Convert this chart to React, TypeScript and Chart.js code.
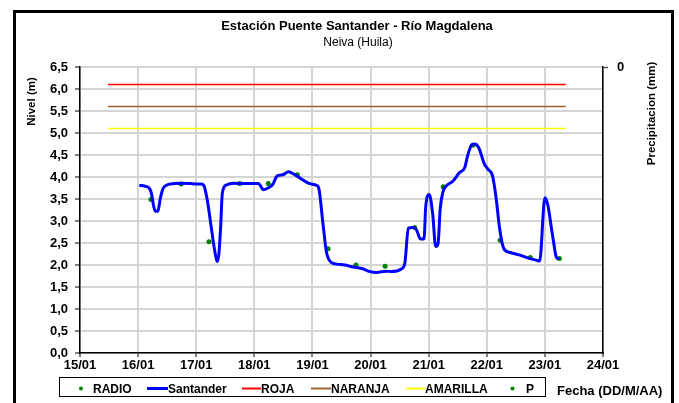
import React, { useEffect, useRef } from 'react';
import { Chart, registerables } from 'chart.js';

Chart.register(...registerables);

const titulo = 'Estación Puente Santander - Río Magdalena';
const subtitulo = 'Neiva (Huila)';
const tituloEjeX = 'Fecha (DD/M/AA)';
const tituloEjeY = 'Nivel (m)';
const tituloEjeY2 = 'Precipitacion (mm)';

const diasEje = [15, 16, 17, 18, 19, 20, 21, 22, 23, 24];
const etiquetasEje = ['15/01', '16/01', '17/01', '18/01', '19/01', '20/01', '21/01', '22/01', '23/01', '24/01'];

const santanderDia = [
  16.02, 16.12, 16.19, 16.23, 16.27, 16.30, 16.34, 16.38, 16.43, 16.50, 16.62, 16.75, 16.90,
  17.00, 17.09, 17.14, 17.20, 17.26, 17.32, 17.36, 17.39, 17.42, 17.45, 17.52, 17.65, 17.80,
  18.07, 18.16, 18.25, 18.32, 18.39, 18.49, 18.59, 18.66, 18.78, 18.95,
  19.07, 19.11, 19.18, 19.24, 19.32, 19.42, 19.56, 19.67, 19.85, 19.99,
  20.10, 20.27, 20.36, 20.53, 20.59, 20.65, 20.73, 20.79, 20.86, 20.92, 20.95,
  21.01, 21.07, 21.12, 21.16, 21.20, 21.25, 21.30, 21.42, 21.53, 21.62, 21.67, 21.73, 21.79, 21.86, 21.96,
  22.02, 22.10, 22.16, 22.22, 22.29, 22.39, 22.56, 22.73, 22.85, 22.91,
  23.00, 23.05, 23.13, 23.21, 23.25,
];
const santanderNivel = [
  3.81, 3.79, 3.75, 3.62, 3.32, 3.22, 3.22, 3.50, 3.74, 3.82, 3.85, 3.86, 3.85,
  3.84, 3.84, 3.78, 3.40, 2.84, 2.31, 2.08, 2.25, 2.86, 3.64, 3.82, 3.86, 3.85,
  3.85, 3.71, 3.76, 3.84, 4.02, 4.05, 4.12, 4.08, 3.98, 3.85,
  3.81, 3.74, 2.95, 2.30, 2.06, 2.02, 2.00, 1.96, 1.92, 1.85,
  1.83, 1.86, 1.85, 1.91, 2.04, 2.84, 2.85, 2.80, 2.59, 2.59, 3.34,
  3.60, 3.15, 2.42, 2.47, 3.30, 3.68, 3.79, 3.91, 4.10, 4.21, 4.48, 4.71, 4.75, 4.67, 4.29,
  4.18, 4.02, 3.53, 2.84, 2.38, 2.29, 2.23, 2.15, 2.11, 2.09,
  3.53, 3.37, 2.69, 2.15, 2.15,
];

const radioDia = [16.22, 16.74, 17.22, 17.75, 18.24, 18.74, 19.27, 19.75, 20.25, 20.76, 21.25, 21.76, 22.23, 22.75, 23.25];
const radioNivel = [3.49, 3.84, 2.53, 3.85, 3.85, 4.05, 2.37, 2.00, 1.97, 2.85, 3.78, 4.72, 2.56, 2.17, 2.15];

const umbralDia = [15.48, 23.36];
const nivelRoja = [6.1, 6.1];
const nivelNaranja = [5.6, 5.6];
const nivelAmarilla = [5.1, 5.1];

const precipitacionDia: number[] = [];
const precipitacionMm: number[] = [];

const FONT = "'Liberation Sans', Arial, sans-serif";

const pares = (xs: number[], ys: number[]) => xs.map((x, i) => ({ x, y: ys[i] }));

const legendLayout = [
  { sx: 72, tx: 93 },
  { sx: 147, tx: 168 },
  { sx: 242, tx: 261 },
  { sx: 311, tx: 331 },
  { sx: 406, tx: 425 },
  { sx: 502, tx: 526 },
];

const decorPlugin = {
  id: 'decor',
  afterDraw(chart: any) {
    const ctx = chart.ctx as CanvasRenderingContext2D;
    ctx.save();
    // outer frame
    ctx.strokeStyle = '#000';
    ctx.lineWidth = 3;
    ctx.strokeRect(14.5, 11.5, 658, 400);

    // titles
    ctx.fillStyle = '#000';
    ctx.textAlign = 'center';
    ctx.textBaseline = 'alphabetic';
    ctx.font = `bold 13px ${FONT}`;
    ctx.fillText(titulo, 357, 29.5);
    ctx.font = `12px ${FONT}`;
    ctx.fillText(subtitulo, 358, 45.5);

    // axis titles
    ctx.font = `bold 11.5px ${FONT}`;
    ctx.textBaseline = 'middle';
    ctx.save();
    ctx.translate(32, 101.5);
    ctx.rotate(-Math.PI / 2);
    ctx.fillText(tituloEjeY, 0, 0);
    ctx.restore();
    ctx.save();
    ctx.translate(652, 113.5);
    ctx.rotate(-Math.PI / 2);
    ctx.fillText(tituloEjeY2, 0, 0);
    ctx.restore();

    // legend box
    ctx.lineWidth = 1;
    ctx.strokeStyle = '#000';
    ctx.strokeRect(59.5, 377.5, 486, 19);
    ctx.font = `bold 12px ${FONT}`;
    ctx.textAlign = 'left';
    ctx.textBaseline = 'alphabetic';
    const ds = chart.data.datasets;
    ds.forEach((d: any, i: number) => {
      const pos = legendLayout[i];
      if (!pos) return;
      const cy = 388.5;
      if (d.showLine === false) {
        ctx.fillStyle = d.pointBackgroundColor;
        ctx.beginPath();
        ctx.arc((pos.sx + pos.tx - 4) / 2 + 0.5, cy, 2, 0, Math.PI * 2);
        ctx.fill();
      } else {
        ctx.strokeStyle = d.borderColor;
        ctx.lineWidth = d.borderWidth >= 3 ? 3 : 2;
        ctx.beginPath();
        ctx.moveTo(pos.sx, cy);
        ctx.lineTo(pos.tx, cy);
        ctx.stroke();
      }
      ctx.fillStyle = '#000';
      ctx.fillText(d.label, pos.tx, 393);
    });

    // x axis title
    ctx.font = `bold 13px ${FONT}`;
    ctx.fillText(tituloEjeX, 557, 395);
    ctx.restore();
  },
};

export default function App() {
  const ref = useRef<HTMLCanvasElement | null>(null);

  useEffect(() => {
    if (!ref.current) return;
    const tickFont = { family: FONT, size: 13, weight: 'bold' as const };
    const chart = new Chart(ref.current, {
      type: 'line',
      data: {
        datasets: [
          {
            label: 'RADIO',
            data: pares(radioDia, radioNivel),
            showLine: false,
            pointRadius: 2.5,
            pointBorderWidth: 0,
            pointBackgroundColor: '#008000',
            borderColor: '#008000',
            yAxisID: 'y',
            order: 2,
          },
          {
            label: 'Santander',
            data: pares(santanderDia, santanderNivel),
            borderColor: '#0000FF',
            backgroundColor: '#0000FF',
            borderWidth: 3,
            pointRadius: 0,
            cubicInterpolationMode: 'monotone',
            yAxisID: 'y',
            order: 1,
          },
          {
            label: 'ROJA',
            data: pares(umbralDia, nivelRoja),
            borderColor: '#FF0000',
            borderWidth: 1.5,
            pointRadius: 0,
            yAxisID: 'y',
            order: 3,
          },
          {
            label: 'NARANJA',
            data: pares(umbralDia, nivelNaranja),
            borderColor: '#996633',
            borderWidth: 1.5,
            pointRadius: 0,
            yAxisID: 'y',
            order: 3,
          },
          {
            label: 'AMARILLA',
            data: pares(umbralDia, nivelAmarilla),
            borderColor: '#FFFF00',
            borderWidth: 1.5,
            pointRadius: 0,
            yAxisID: 'y',
            order: 3,
          },
          {
            label: 'P',
            data: pares(precipitacionDia, precipitacionMm),
            showLine: false,
            pointRadius: 2.5,
            pointBorderWidth: 0,
            pointBackgroundColor: '#008000',
            borderColor: '#008000',
            yAxisID: 'y2',
            order: 2,
          },
        ],
      },
      options: {
        animation: false,
        responsive: false,
        maintainAspectRatio: false,
        devicePixelRatio: 1,
        layout: { padding: { top: 67, left: 0, right: 0, bottom: 0 } },
        plugins: {
          legend: { display: false },
          title: { display: false },
          tooltip: { enabled: false },
        },
        scales: {
          x: {
            type: 'linear',
            min: diasEje[0],
            max: diasEje[diasEje.length - 1],
            afterBuildTicks: (s: any) => {
              s.ticks = diasEje.map((v) => ({ value: v }));
            },
            afterFit: (s: any) => {
              s.height = 50;
            },
            ticks: {
              autoSkip: false,
              maxRotation: 0,
              padding: 1,
              color: '#000',
              font: tickFont,
              callback: (v: any) => {
                const i = diasEje.indexOf(Number(v));
                return i >= 0 ? etiquetasEje[i] : '';
              },
            },
            grid: { color: '#d4d4d4', lineWidth: 2, tickColor: '#000', tickLength: 4, tickWidth: 1 },
            border: { display: true, color: '#000', width: 1.5 },
          },
          y: {
            type: 'linear',
            position: 'left',
            min: 0,
            max: 6.5,
            afterFit: (s: any) => {
              s.width = 80;
            },
            ticks: {
              stepSize: 0.5,
              padding: 7,
              color: '#000',
              font: tickFont,
              callback: (v: any) => Number(v).toFixed(1).replace('.', ','),
            },
            grid: { color: '#d4d4d4', lineWidth: 2, tickColor: '#000', tickLength: 5, tickWidth: 1 },
            border: { display: true, color: '#000', width: 1.5 },
          },
          y2: {
            type: 'linear',
            position: 'right',
            reverse: true,
            min: 0,
            max: 1,
            afterBuildTicks: (s: any) => {
              s.ticks = [{ value: 0 }];
            },
            afterFit: (s: any) => {
              s.width = 76;
            },
            ticks: {
              padding: 9,
              color: '#000',
              font: tickFont,
              callback: (v: any) => String(v),
            },
            grid: { drawOnChartArea: false, color: '#555', tickColor: '#555', tickLength: 5, tickWidth: 1.5 },
            border: { display: true, color: '#000', width: 1.5 },
          },
        },
      },
      plugins: [decorPlugin],
    });
    return () => chart.destroy();
  }, []);

  return (
    <div style={{ position: 'fixed', left: 0, top: 0, width: 679, height: 403, background: '#fff' }}>
      <canvas ref={ref} width={679} height={403} style={{ display: 'block', width: 679, height: 403 }} />
    </div>
  );
}
